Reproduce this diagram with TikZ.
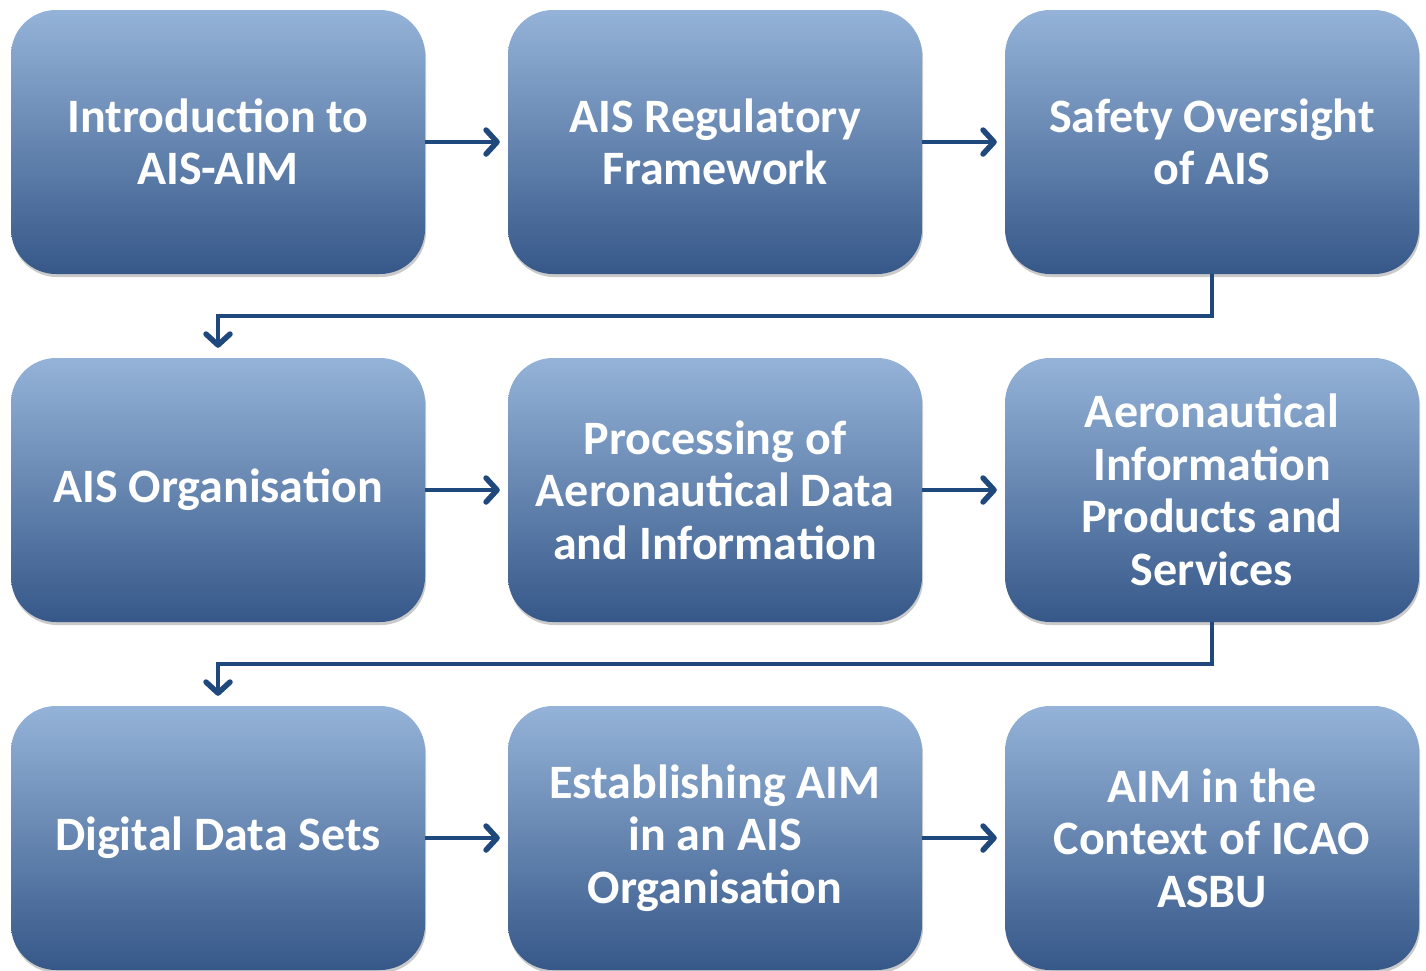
\documentclass[tikz,border=0pt]{standalone}
\usepackage{fontspec}
\setmainfont{Carlito}
\usetikzlibrary{arrows.meta,shadows}
\definecolor{boxtop}{RGB}{149,179,216}
\definecolor{boxmid}{RGB}{84,133,194}
\definecolor{boxbot}{RGB}{54,88,137}
\definecolor{conncol}{RGB}{31,73,125}
\tikzset{
  stagebox/.style={rounded corners=45pt, minimum width=414pt, minimum height=264pt,
    top color=boxtop, middle color=boxmid, bottom color=boxbot, draw=none,
    drop shadow={shadow xshift=1pt, shadow yshift=-3pt, opacity=0.35, fill=black!60},
    text=white, align=center, font=\bfseries\fontsize{48}{52.5}\selectfont, inner sep=0pt},
  conn/.style={draw=conncol, line width=4pt,
    -{Straight Barb[length=11pt,width=24pt,line width=5.5pt,round]}}
}
\begin{document}
\begin{tikzpicture}[x=1pt,y=-1pt]
\useasboundingbox (0,0) rectangle (1426,970);
\node[stagebox] (a) at (218,142) {Introduction to\\AIS-AIM};
\node[stagebox] (b) at (715,142) {AIS Regulatory\\Framework};
\node[stagebox] (c) at (1212,142) {Safety Oversight\\of AIS};
\node[stagebox] (d) at (218,490) {AIS Organisation};
\node[stagebox] (e) at (715,490) {Processing of\\Aeronautical Data\\and Information};
\node[stagebox] (f) at (1212,490) {Aeronautical\\Information\\Products and\\Services};
\node[stagebox] (g) at (218,838) {Digital Data Sets};
\node[stagebox] (h) at (715,838) {Establishing AIM\\in an AIS\\Organisation};
\node[stagebox] (i) at (1212,838) {AIM in the\\Context of ICAO\\ASBU};
\draw[conn, shorten >=8pt] (a.east) -- (b.west);
\draw[conn, shorten >=8pt] (b.east) -- (c.west);
\draw[conn, shorten >=8pt] (d.east) -- (e.west);
\draw[conn, shorten >=8pt] (e.east) -- (f.west);
\draw[conn, shorten >=8pt] (g.east) -- (h.west);
\draw[conn, shorten >=8pt] (h.east) -- (i.west);
\draw[conn, shorten >=10pt] (c.south) -- ++(0,42) -| (d.north);
\draw[conn, shorten >=10pt] (f.south) -- ++(0,42) -| (g.north);
\end{tikzpicture}
\end{document}
